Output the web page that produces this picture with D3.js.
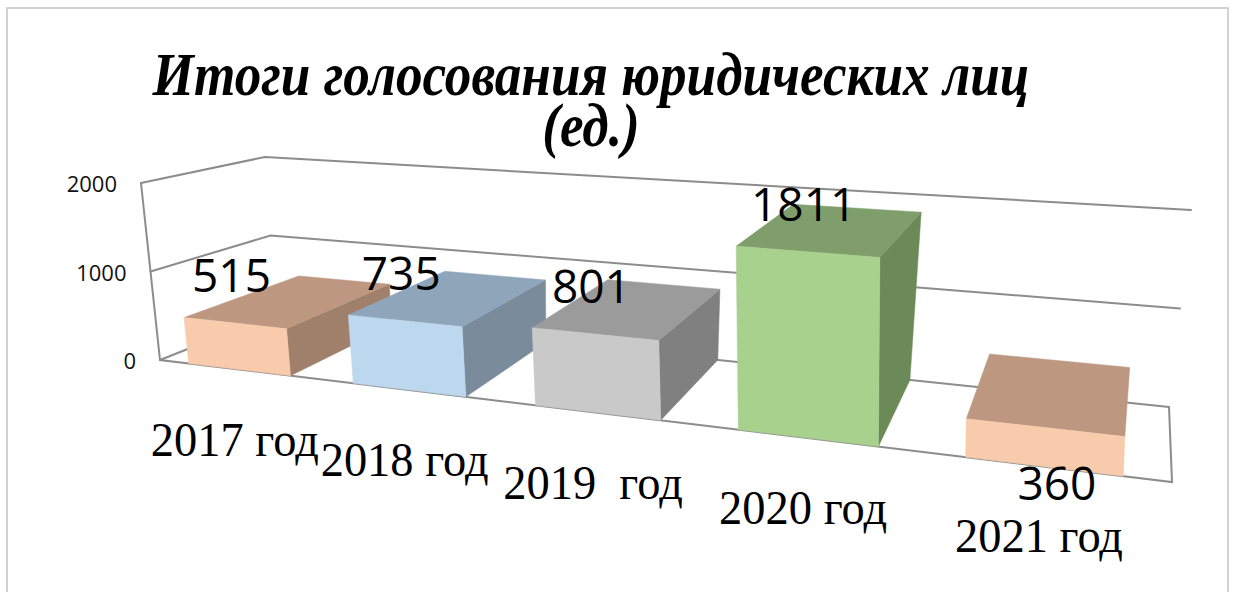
<!DOCTYPE html>
<html>
<head>
<meta charset="utf-8">
<script src="https://cdn.jsdelivr.net/npm/d3@7"></script>
<style>
  body { margin: 0; background: #fff; }
  svg { display: block; }
  .grid { stroke: #8c8c8c; stroke-width: 2; fill: none; stroke-linecap: round; }
  .frame { stroke: #c4c4c4; stroke-width: 1.5; fill: none; }
  .tick-label { font-family: "Open Sans", sans-serif; font-size: 22px; fill: #111; }
  .value-label { font-family: "Open Sans", sans-serif; font-size: 46px; fill: #000; }
  .cat-label { font-family: "Liberation Serif", "Times New Roman", serif; font-size: 49px; fill: #000; white-space: pre; }
  .title { font-family: "Liberation Serif", "Times New Roman", serif; font-weight: bold; font-style: italic; font-size: 61px; fill: #000; }
</style>
</head>
<body>
<svg id="chart" width="1235" height="592"></svg>
<script>
// data
const categories = ["2017 год", "2018 год", "2019  год", "2020 год", "2021 год"];
const values = [515, 735, 801, 1811, 360];
const valueLabels = ["515", "735", "801", "1811", "360"];
const yTicks = [0, 1000, 2000];
const titleLines = ["Итоги голосования юридических лиц", "(ед.)"];

// colours per bar: front, top, side
const palette = [
    {front: "#f8cbad", top: "#bd977f", side: "#a0806b"},
    {front: "#bdd7ee", top: "#8fa6ba", side: "#7a8b9c"},
    {front: "#c9c9c9", top: "#9b9b9b", side: "#808080"},
    {front: "#a9d18e", top: "#7f9e6b", side: "#6b8a58"},
    {front: "#f8cbad", top: "#bd977f", side: "#a0806b"}
];

const svg = d3.select("#chart");

// the plot box corners on screen (floor at 0, roof at max value)
const floor = {fl: [160, 360], fr: [1172, 482], bl: [276, 314], br: [1169, 407]};
const roof  = {fl: [141, 183], fr: [1182, 260], bl: [265, 157], br: [1191, 210]};
const persp = 0.76; // foreshortening along the category axis

const x = d3.scaleBand().domain(categories).range([0, 1]).paddingInner(0.37).paddingOuter(0.185);
const y = d3.scaleLinear().domain([0, 2000]).range([0, 1]);

const warp = u => persp * u / (1 + (persp - 1) * u);
const lerp = (a, b, t) => [a[0] + (b[0] - a[0]) * t, a[1] + (b[1] - a[1]) * t];

// u: 0..1 across, h: 0..1 up, w: 0 back .. 1 front
function project(u, h, w) {
    const g = warp(u);
    const bf = lerp(floor.fl, floor.fr, g), bb = lerp(floor.bl, floor.br, g);
    const tf = lerp(roof.fl, roof.fr, g), tb = lerp(roof.bl, roof.br, g);
    return lerp(lerp(bb, tb, h), lerp(bf, tf, h), w);
}

const line = d3.line();

// outer frame
svg.append("rect").attr("class", "frame")
    .attr("x", 7).attr("y", 8).attr("width", 1221).attr("height", 620);

// walls and gridlines
const walls = svg.append("g");
yTicks.forEach(t => {
    walls.append("path").attr("class", "grid")
        .attr("d", line([project(0, y(t), 1), project(0, y(t), 0), project(1, y(t), 0)]));
});
walls.append("path").attr("class", "grid")
    .attr("d", line([project(0, y(2000), 1), project(0, 0, 1), project(1, 0, 1), project(1, 0, 0)]));

svg.append("g").selectAll("text").data(yTicks).join("text")
    .attr("class", "tick-label")
    .attr("text-anchor", "end")
    .attr("x", d => project(0, y(d), 1)[0] - 24)
    .attr("y", d => project(0, y(d), 1)[1] + 9)
    .text(d => d);

// bars
const data = categories.map((c, i) => ({cat: c, value: values[i], label: valueLabels[i], i: i}));

function barFaces(d) {
    const u0 = x(d.cat), u1 = u0 + x.bandwidth(), h = y(d.value);
    const col = palette[d.i];
    const faces = [
        {fill: col.side, pts: [project(u0, 0, 0), project(u0, 0, 1), project(u0, h, 1), project(u0, h, 0)]},
        {fill: col.side, pts: [project(u1, 0, 1), project(u1, 0, 0), project(u1, h, 0), project(u1, h, 1)]},
        {fill: col.top, pts: [project(u0, h, 1), project(u1, h, 1), project(u1, h, 0), project(u0, h, 0)]},
        {fill: col.front, pts: [project(u0, 0, 1), project(u1, 0, 1), project(u1, h, 1), project(u0, h, 1)]}
    ];
    // keep only faces turned towards the viewer
    return faces.filter(f => d3.polygonArea(f.pts) > 0);
}

const bars = svg.append("g").selectAll("g.bar").data(data).join("g").attr("class", "bar");
bars.selectAll("path").data(d => barFaces(d)).join("path")
    .attr("d", f => line(f.pts) + "Z")
    .attr("fill", f => f.fill)
    .attr("stroke", f => f.fill)
    .attr("stroke-width", 0.5);

// value labels (the last one was moved under its bar)
const labelBelow = [false, false, false, false, true];
const mid = d => x(d.cat) + x.bandwidth() / 2;
svg.append("g").selectAll("text").data(data).join("text")
    .attr("class", "value-label")
    .attr("text-anchor", "middle")
    .attr("x", d => project(mid(d), labelBelow[d.i] ? 0 : y(d.value), 1)[0] + (labelBelow[d.i] ? 14 : -3))
    .attr("y", d => labelBelow[d.i] ? project(mid(d), 0, 1)[1] + 34 : project(mid(d), y(d.value), 1)[1] - 31)
    .text(d => d.label);

// category labels (condensed serif)
const cats = svg.append("g").selectAll("text").data(data).join("text")
    .attr("class", "cat-label")
    .attr("text-anchor", "middle")
    .text(d => d.cat);
const catScale = 168 / cats.filter((d, i) => i === 1).node().getComputedTextLength();
cats.attr("transform", d => {
    const p = project(mid(d), 0, 1);
    return "translate(" + (p[0] - 4) + "," + (p[1] + 86) + ") scale(" + catScale + ",1)";
});

// title, one text with two lines
const title = svg.append("text")
    .attr("class", "title")
    .attr("text-anchor", "middle");
title.selectAll("tspan").data(titleLines).join("tspan")
    .attr("x", 0)
    .attr("dy", (d, i) => i === 0 ? 0 : 51)
    .text(d => d);
const titleScale = 877 / title.select("tspan").node().getComputedTextLength();
title.attr("transform", "translate(591,95) scale(" + titleScale + ",1)");
</script>
</body>
</html>
